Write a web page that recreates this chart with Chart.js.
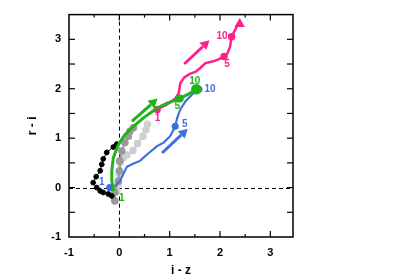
<!DOCTYPE html>
<html><head><meta charset="utf-8">
<script src="https://cdn.jsdelivr.net/npm/chart.js@4/dist/chart.umd.min.js"></script>
<style>html,body{margin:0;padding:0;background:#fff}canvas{display:block}</style>
</head><body>
<canvas id="c" width="400" height="280"></canvas>
<script>
// ---- data (i - z, r - i) ----
const xTicks = [-1, 0, 1, 2, 3];
const yTicks = [-1, 0, 1, 2, 3];

const magentaX = [0.75, 0.95, 1.11, 1.18, 1.21, 1.29, 1.40, 1.51, 1.61, 1.71, 1.85, 1.98, 2.08, 2.15, 2.20, 2.23, 2.29, 2.35, 2.39];
const magentaY = [1.58, 1.68, 1.80, 1.91, 2.11, 2.23, 2.30, 2.34, 2.42, 2.52, 2.55, 2.60, 2.65, 2.72, 2.85, 3.05, 3.17, 3.29, 3.31];
const magentaMarks = [0, 12, 15];

const greenX = [-0.11, -0.15, -0.15, -0.12, -0.02, 0.11, 0.28, 0.48, 0.75, 0.95, 1.20, 1.35, 1.53];
const greenY = [-0.07, 0.13, 0.34, 0.60, 0.87, 1.07, 1.24, 1.41, 1.61, 1.71, 1.80, 1.88, 1.99];
const greenMarks = [10];

const blueX = [-0.19, -0.09, 0.01, 0.11, 0.15, 0.25, 0.41, 0.55, 0.75, 0.88, 1.01, 1.11, 1.15, 1.21, 1.31, 1.45, 1.58];
const blueY = [0.00, 0.03, 0.13, 0.34, 0.42, 0.47, 0.54, 0.67, 0.84, 0.91, 1.04, 1.24, 1.41, 1.58, 1.74, 1.89, 1.99];
const blueMarks = [0, 11, 16];

const blackX = [-0.15, -0.22, -0.32, -0.38, -0.45, -0.52, -0.46, -0.38, -0.35, -0.32, -0.25, -0.12, -0.05];
const blackY = [-0.17, -0.13, -0.10, -0.07, 0.00, 0.10, 0.22, 0.34, 0.47, 0.58, 0.71, 0.82, 0.88];

const dgrayX = [-0.09, -0.09, -0.02, 0.00, 0.01, 0.05, 0.11, 0.18, 0.21, 0.28];
const dgrayY = [-0.27, -0.10, 0.13, 0.34, 0.54, 0.74, 0.91, 1.04, 1.14, 1.21];

const lgrayX = [-0.05, -0.02, 0.00, 0.01, 0.08, 0.15, 0.27, 0.36, 0.47, 0.53, 0.56];
const lgrayY = [-0.07, 0.07, 0.27, 0.50, 0.60, 0.66, 0.75, 0.89, 1.04, 1.17, 1.28];

// arrows
const arrowStart = { magenta: [1.29, 2.50], green: [0.25, 1.34], blue: [0.85, 0.70] };
const arrowEnd   = { magenta: [1.79, 2.98], green: [0.76, 1.80], blue: [1.36, 1.19] };

// point labels: [x, y, text, colour]
const labelTexts = [
  [0.76, 1.40, '1', 'magenta'], [2.14, 2.50, '5', 'magenta'], [2.04, 3.06, '10', 'magenta'],
  [1.50, 2.15, '10', 'green'], [1.15, 1.64, '5', 'green'], [0.05, -0.21, '1', 'green'],
  [1.80, 1.98, '10', 'blue'], [1.30, 1.28, '5', 'blue'], [-0.35, 0.10, '1', 'blue']
];

const COL = { magenta: '#ff1f8e', green: '#1fb31a', blue: '#3d6fe0', black: '#000000', dgray: '#9a9a9a', lgray: '#cfcfcf' };

function pts(xs, ys) { return xs.map((x, i) => ({ x: x, y: ys[i] })); }
function radii(n, marks, r, last, lastR) {
  const a = new Array(n).fill(0);
  marks.forEach(i => a[i] = r);
  if (lastR) a[n - 1] = lastR;
  return a;
}

// first dataset is drawn on top in Chart.js
const datasets = [
  { data: pts(greenX, greenY), borderColor: COL.green, backgroundColor: COL.green, borderWidth: 3,
    pointRadius: radii(greenX.length, greenMarks, 2.5, true, 3.8), showLine: true },
  { data: pts(magentaX, magentaY), borderColor: COL.magenta, backgroundColor: COL.magenta, borderWidth: 2.5,
    pointRadius: radii(magentaX.length, magentaMarks, 2.5, true, 3.5),
    pointStyle: magentaX.map((_, i) => i === magentaX.length - 1 ? 'triangle' : 'circle'), showLine: true },
  { data: pts(blueX, blueY), borderColor: COL.blue, backgroundColor: COL.blue, borderWidth: 2.2,
    pointRadius: radii(blueX.length, blueMarks, 2.5), showLine: true },
  { data: pts(blackX, blackY), borderColor: COL.black, backgroundColor: COL.black, borderWidth: 1, pointRadius: 2.4, showLine: true },
  { data: pts(dgrayX, dgrayY), borderColor: COL.dgray, backgroundColor: COL.dgray, borderWidth: 2, pointRadius: 2.8, showLine: true },
  { data: pts(lgrayX, lgrayY), borderColor: COL.lgray, backgroundColor: COL.lgray, borderWidth: 2, pointRadius: 2.8, showLine: true }
];

const FONT = '"Liberation Sans", Arial, sans-serif';

const decor = {
  id: 'decor',
  beforeDatasetsDraw(chart) {
    const { ctx, chartArea: a, scales: { x, y } } = chart;
    ctx.save();
    ctx.strokeStyle = '#000';
    ctx.lineWidth = 1;
    ctx.setLineDash([4, 3]);
    const x0 = Math.round(x.getPixelForValue(0)) + 0.5;
    const y0 = Math.round(y.getPixelForValue(0)) + 0.5;
    ctx.beginPath(); ctx.moveTo(x0, a.top); ctx.lineTo(x0, a.bottom); ctx.stroke();
    ctx.beginPath(); ctx.moveTo(a.left, y0); ctx.lineTo(a.right, y0); ctx.stroke();
    ctx.restore();
  },
  afterDatasetsDraw(chart) {
    const { ctx, chartArea: a, scales: { x, y } } = chart;
    ctx.save();
    Object.keys(arrowStart).forEach(k => {
      const p0 = arrowStart[k], p1 = arrowEnd[k];
      const sx = x.getPixelForValue(p0[0]), sy = y.getPixelForValue(p0[1]);
      const ex = x.getPixelForValue(p1[0]), ey = y.getPixelForValue(p1[1]);
      const ang = Math.atan2(ey - sy, ex - sx);
      const hl = 9, hw = 5;
      const bx = ex - hl * Math.cos(ang), by = ey - hl * Math.sin(ang);
      ctx.strokeStyle = COL[k]; ctx.fillStyle = COL[k]; ctx.lineWidth = 3; ctx.lineCap = 'butt';
      ctx.beginPath(); ctx.moveTo(sx, sy); ctx.lineTo(bx, by); ctx.stroke();
      ctx.beginPath();
      ctx.moveTo(ex, ey);
      ctx.lineTo(bx + hw * Math.sin(ang), by - hw * Math.cos(ang));
      ctx.lineTo(bx - hw * Math.sin(ang), by + hw * Math.cos(ang));
      ctx.closePath(); ctx.fill();
    });
    ctx.font = 'bold 10px ' + FONT;
    ctx.textAlign = 'center'; ctx.textBaseline = 'middle';
    labelTexts.forEach(l => {
      ctx.fillStyle = COL[l[3]];
      ctx.fillText(l[2], x.getPixelForValue(l[0]), y.getPixelForValue(l[1]));
    });
    ctx.strokeStyle = '#000'; ctx.lineWidth = 1.5; ctx.setLineDash([]);
    ctx.strokeRect(a.left, a.top, a.right - a.left, a.bottom - a.top);
    ctx.lineWidth = 1.2;
    for (let v = -1; v <= 3.45; v += 0.5) {
      const L = Number.isInteger(v) ? 6 : 3;
      const px = x.getPixelForValue(v);
      if (px > a.left + 1 && px < a.right - 1) {
        ctx.beginPath(); ctx.moveTo(px, a.bottom); ctx.lineTo(px, a.bottom - L); ctx.stroke();
        ctx.beginPath(); ctx.moveTo(px, a.top); ctx.lineTo(px, a.top + L); ctx.stroke();
      }
    }
    for (let v = -1; v <= 3.5; v += 0.5) {
      const L = 6;
      const py = y.getPixelForValue(v);
      if (py > a.top + 1 && py < a.bottom - 1) {
        ctx.beginPath(); ctx.moveTo(a.left, py); ctx.lineTo(a.left + L, py); ctx.stroke();
        ctx.beginPath(); ctx.moveTo(a.right, py); ctx.lineTo(a.right - L, py); ctx.stroke();
      }
    }
    ctx.restore();
  }
};

const tickFont = { family: FONT, size: 11, weight: 'bold' };
const titleFont = { family: FONT, size: 12, weight: 'bold' };

new Chart(document.getElementById('c'), {
  type: 'scatter',
  data: { datasets: datasets },
  options: {
    responsive: false, animation: false, events: [],
    layout: { padding: 0 },
    plugins: { legend: { display: false }, tooltip: { enabled: false } },
    elements: { line: { tension: 0 } },
    scales: {
      x: {
        type: 'linear', position: 'bottom', min: -1, max: 3.45,
        afterBuildTicks: s => { s.ticks = xTicks.map(v => ({ value: v })); },
        afterFit: s => { s.height = 43; },
        grid: { display: false, drawTicks: false }, border: { display: false },
        ticks: { font: tickFont, color: '#000', padding: 9, maxRotation: 0 },
        title: { display: true, text: 'i - z', font: titleFont, color: '#000', padding: { top: 0, bottom: 2 } }
      },
      x2: {
        type: 'linear', position: 'top', min: -1, max: 3.45,
        afterFit: s => { s.height = 13; },
        grid: { display: false, drawTicks: false }, border: { display: false },
        ticks: { display: false }
      },
      y: {
        type: 'linear', position: 'left', min: -1, max: 3.5,
        afterBuildTicks: s => { s.ticks = yTicks.map(v => ({ value: v })); },
        afterFit: s => { s.width = 69; },
        grid: { display: false, drawTicks: false }, border: { display: false },
        ticks: { font: tickFont, color: '#000', padding: 8 },
        title: { display: true, text: 'r - i', font: titleFont, color: '#000', padding: { top: 25, bottom: 0 } }
      },
      y2: {
        type: 'linear', position: 'right', min: -1, max: 3.5,
        afterFit: s => { s.width = 107; },
        grid: { display: false, drawTicks: false }, border: { display: false },
        ticks: { display: false }
      }
    }
  },
  plugins: [decor]
});
</script>
</body></html>
